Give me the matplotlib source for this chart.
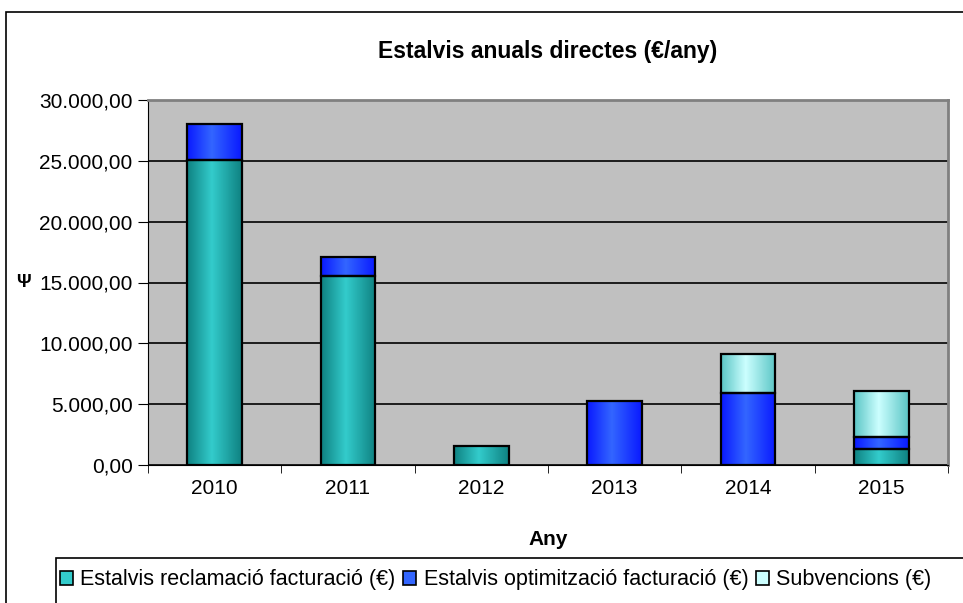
import numpy as np
import matplotlib
matplotlib.use("Agg")
import matplotlib.pyplot as plt
import matplotlib.transforms as mtransforms
from matplotlib.colors import LinearSegmentedColormap
from matplotlib.patches import Rectangle, Patch
from matplotlib.ticker import FuncFormatter

plt.rcParams["font.family"] = ["Liberation Sans", "DejaVu Sans"]

# ── data ────────────────────────────────────────────────────────────────────
years        = ["2010", "2011", "2012", "2013", "2014", "2015"]
reclamacio   = [25100, 15500, 1550, 0, 0, 1350]
optimitzacio = [2900, 1600, 0, 5300, 5950, 950]
subvencions  = [0, 0, 0, 0, 3150, 3800]

labels = ["Estalvis reclamació facturació (€)",
          "Estalvis optimització facturació (€)",
          "Subvencions (€)"]
values = [reclamacio, optimitzacio, subvencions]
# (edge shade, centre shade) for the cylinder-like gradient
shades = [("#0F8282", "#33CCCC"),
          ("#0A1AFF", "#3366FF"),
          ("#5CC6C6", "#CCFFFF")]

W, H = 963, 603
fig = plt.figure(figsize=(W / 100, H / 100), dpi=100)

# outer chart frame (cut off at right/bottom like the original)
fig.patches.append(Rectangle((6 / W, -0.05), 1.1, 1 - 12 / H + 0.05,
                             transform=fig.transFigure, fill=False,
                             edgecolor="black", linewidth=1.2))

ax = fig.add_axes([148 / W, 1 - 465 / H, (948 - 148) / W, (465 - 100) / H])
ax.set_facecolor("#C0C0C0")

x = np.arange(len(years))
bottom = np.zeros(len(years))
for vals, (dark, light) in zip(values, shades):
    vals = np.array(vals, dtype=float)
    cmap = LinearSegmentedColormap.from_list("g", [(0, dark), (0.45, light), (1, dark)])
    grad = np.linspace(0, 1, 64).reshape(1, -1)
    bars = ax.bar(x, vals, width=0.41, bottom=bottom, facecolor="none",
                  edgecolor="black", linewidth=1.6, zorder=4)
    for p, v in zip(bars.patches, vals):
        if v == 0:
            p.set_visible(False)
            continue
        x0, y0 = p.get_x(), p.get_y()
        im = ax.imshow(grad, cmap=cmap, aspect="auto", zorder=3,
                       extent=(x0, x0 + p.get_width(), y0, y0 + p.get_height()))
        im.set_clip_path(p)
    bottom += vals

ax.set_xlim(-0.5, len(years) - 0.5)
ax.set_ylim(0, 30000)
ax.set_yticks(np.arange(0, 30001, 5000))
ax.yaxis.set_major_formatter(
    FuncFormatter(lambda v, _: f"{v:,.2f}".replace(",", "X").replace(".", ",").replace("X", ".")))
ax.set_xticks(x)
ax.set_xticklabels(years)
ax.set_xticks(np.arange(-0.5, len(years), 1), minor=True)
ax.tick_params(axis="x", which="major", length=0, pad=10, labelsize=15)
ax.tick_params(axis="x", which="minor", length=6, direction="out", color="black")
ax.tick_params(axis="y", length=7, direction="out", labelsize=15, pad=4)
ax.grid(axis="y", color="black", linewidth=1.2, zorder=1)

for side in ["top", "right"]:
    ax.spines[side].set_color("#808080")
    ax.spines[side].set_linewidth(2)
ax.spines["left"].set_color("black")
ax.spines["bottom"].set_color("black")

ax.set_title("Estalvis anuals directes (€/any)", fontsize=16.5, fontweight="bold", pad=30)
ax.set_xlabel("Any", fontsize=15, fontweight="bold", labelpad=23)

# y-axis title shows as a single glyph left of the 15.000 tick
ytrans = mtransforms.blended_transform_factory(fig.transFigure, ax.transData)
ax.text(23 / W, 15000, "Ψ", transform=ytrans, fontsize=13, fontweight="bold",
        ha="center", va="center")

# legend with its own box (also cut at right/bottom)
fig.patches.append(Rectangle((56 / W, -0.05), 1.1, (H - 558) / H + 0.05,
                             transform=fig.transFigure, fill=False,
                             edgecolor="black", linewidth=1.2))
handles = [Patch(facecolor=light, edgecolor="black", linewidth=1.2)
           for _, light in shades]
fig.legend(handles=handles, labels=labels, loc="center left",
           bbox_to_anchor=(60 / W, (H - 580) / H), ncol=3, frameon=False,
           fontsize=15.5, handlelength=0.6, handleheight=0.6,
           handletextpad=0.35, columnspacing=0.35, borderpad=0, borderaxespad=0)

fig.savefig("out.png", dpi=100)
